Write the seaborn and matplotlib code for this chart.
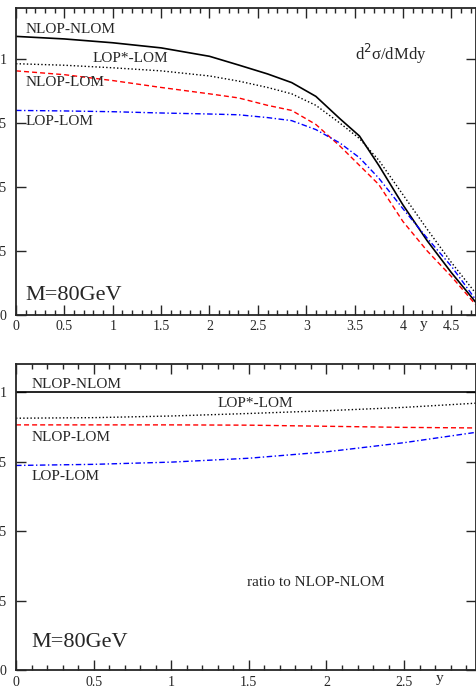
import numpy as np
import pandas as pd
import matplotlib
matplotlib.use("Agg")
import matplotlib.pyplot as plt
import seaborn as sns
from matplotlib.ticker import MultipleLocator

# d2sigma/dMdy at M=80 GeV
y_top = [0, 0.5, 1.0, 1.5, 2.0, 2.3, 2.6, 2.85, 3.1, 3.35, 3.55, 3.75, 4.0, 4.25, 4.5, 4.75]
nlop_nlom = [1.09, 1.08, 1.065, 1.045, 1.012, 0.978, 0.943, 0.909, 0.855, 0.767, 0.70, 0.585, 0.43, 0.29, 0.165, 0.05]
lopstar_lom = [0.983, 0.977, 0.967, 0.955, 0.935, 0.915, 0.89, 0.865, 0.82, 0.75, 0.69, 0.605, 0.47, 0.335, 0.205, 0.085]
nlop_lom = [0.955, 0.94, 0.917, 0.89, 0.865, 0.849, 0.82, 0.80, 0.745, 0.66, 0.585, 0.51, 0.365, 0.25, 0.15, 0.04]
lop_lom = [0.80, 0.798, 0.795, 0.79, 0.786, 0.783, 0.772, 0.76, 0.725, 0.672, 0.615, 0.535, 0.415, 0.30, 0.19, 0.06]

# ratio to NLOP-NLOM
y_bot = [0, 0.5, 1.0, 1.5, 2.0, 2.5, 2.96]
r_nlop_nlom = [1.0, 1.0, 1.0, 1.0, 1.0, 1.0, 1.0]
r_lopstar_lom = [0.906, 0.908, 0.914, 0.923, 0.933, 0.945, 0.96]
r_nlop_lom = [0.882, 0.882, 0.882, 0.881, 0.877, 0.873, 0.871]
r_lop_lom = [0.736, 0.740, 0.748, 0.762, 0.785, 0.818, 0.855]

sns.set_style("ticks")
plt.rcParams['font.family'] = ['Liberation Serif', 'DejaVu Serif']

fig = plt.figure(figsize=(4.76, 6.87), dpi=100)
W, H = 476, 687
ax1 = fig.add_axes([16 / W, 1 - 314.7 / H, (475.5 - 16) / W, (314.7 - 8.3) / H])
ax2 = fig.add_axes([16 / W, 1 - 670 / H, (475.5 - 16) / W, (670 - 364.3) / H])

styles = [
    ("NLOP-NLOM", "black", "-", 1.2),
    ("LOP*-LOM", "black", (0, (1, 1.6)), 1.0),
    ("NLOP-LOM", "red", (0, (3.6, 2.2)), 1.0),
    ("LOP-LOM", "blue", (0, (4, 1.8, 1, 1.8)), 1.0),
]

top = pd.DataFrame({"y": y_top, "NLOP-NLOM": nlop_nlom, "LOP*-LOM": lopstar_lom,
                    "NLOP-LOM": nlop_lom, "LOP-LOM": lop_lom})
bot = pd.DataFrame({"y": y_bot, "NLOP-NLOM": r_nlop_nlom, "LOP*-LOM": r_lopstar_lom,
                    "NLOP-LOM": r_nlop_lom, "LOP-LOM": r_lop_lom})

for ax, df in [(ax1, top), (ax2, bot)]:
    for name, col, ls, lw in styles:
        sns.lineplot(data=df, x="y", y=name, color=col, linestyle=ls, linewidth=lw, ax=ax)

def style_axis(ax, xmax, ymax):
    ax.set_xlim(0, xmax)
    ax.set_ylim(0, ymax)
    ax.set_xlabel("")
    ax.set_ylabel("")
    xt = np.arange(0, xmax + 0.01, 0.5)
    ax.set_xticks(xt)
    ax.set_xticklabels(["%g" % t for t in xt])
    ax.xaxis.set_minor_locator(MultipleLocator(0.1))
    ax.set_yticks([0, 0.25, 0.5, 0.75, 1.0])
    ax.set_yticklabels(["0", "0.25", "0.5", "0.75", "1"])
    ax.tick_params(which="both", direction="in", top=True, right=True, width=1.0, labelsize=10)
    ax.tick_params(which="major", length=7)
    ax.tick_params(which="minor", length=3.5)
    ax.tick_params(axis="y", which="minor", left=False, right=False)
    ax.tick_params(axis="y", pad=7)
    ax.tick_params(axis="x", pad=4)
    for s in ax.spines.values():
        s.set_linewidth(1.3)
        s.set_visible(True)

style_axis(ax1, 4.75, 1.2)
style_axis(ax2, 2.96, 1.1)

# labels, top panel
fs = 11
ax1.text(0.1, 1.116, "NLOP-NLOM", fontsize=fs, va="center")
ax1.text(0.79, 1.005, "LOP*-LOM", fontsize=fs, va="center")
ax1.text(0.1, 0.91, "NLOP-LOM", fontsize=fs, va="center")
ax1.text(0.1, 0.757, "LOP-LOM", fontsize=fs, va="center")
ax1.text(3.5, 1.02, "d$^{2}$σ/dMdy", fontsize=12, va="center")
ax1.text(0.1, 0.077, "M=80GeV", fontsize=16, va="center")
ax1.text(4.21, -0.04, "y", fontsize=11, va="center", ha="center")

# labels, bottom panel
ax2.text(0.1, 1.029, "NLOP-NLOM", fontsize=fs, va="center")
ax2.text(1.295, 0.96, "LOP*-LOM", fontsize=fs, va="center")
ax2.text(0.1, 0.837, "NLOP-LOM", fontsize=fs, va="center")
ax2.text(0.1, 0.697, "LOP-LOM", fontsize=fs, va="center")
ax2.text(1.49, 0.315, "ratio to NLOP-NLOM", fontsize=fs, va="center")
ax2.text(0.1, 0.10, "M=80GeV", fontsize=16, va="center")
ax2.text(2.73, -0.03, "y", fontsize=11, va="center", ha="center")

fig.savefig("out.png", dpi=100)
